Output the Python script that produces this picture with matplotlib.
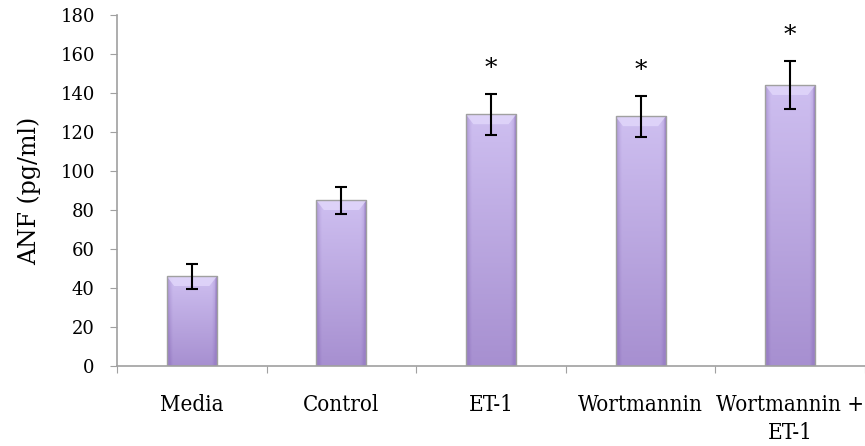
import matplotlib
matplotlib.use('Agg')
import matplotlib.pyplot as plt
import numpy as np
from matplotlib.colors import LinearSegmentedColormap
from matplotlib.patches import Polygon

groups = ['Media', 'Control', 'ET-1', 'Wortmannin', 'Wortmannin +\nET-1']
anf = [46, 85, 129, 128, 144]
sem = [6.5, 7, 10.5, 10.7, 12.4]
signif = [False, False, True, True, True]

plt.rcParams['font.family'] = ['DejaVu Serif']

fig = plt.figure(figsize=(8.65, 4.46), dpi=100)
ax = fig.add_axes([117/865., 80/446., 748/865., 351/446.])

x = np.arange(len(groups))
width = 0.335

cmap = LinearSegmentedColormap.from_list('lav', ['#9a80c6', '#d4c6f5'])

for xi, h in zip(x, anf):
    x0, x1 = xi - width/2, xi + width/2
    # vertical shade: light at top, darker at bottom
    v = np.linspace(0, 1, 200)[:, None]
    # horizontal shade: darker near the edges
    u = np.linspace(-1, 1, 60)[None, :]
    edge = np.clip(np.abs(u) - 0.75, 0, None) / 0.25
    z = 0.22 + 0.68 * v - 0.55 * edge**1.5
    z[:, u[0] > 0.9] -= 0.35
    ax.imshow(z, cmap=cmap, vmin=0, vmax=1, origin='lower', aspect='auto',
              extent=[x0, x1, 0, h], zorder=2, interpolation='bilinear')
    ax.add_patch(plt.Rectangle((x0, 0), width, h, fill=False,
                               ec='#a0a0a0', lw=1.0, zorder=3))
    # bevel at the top of the bar
    bev = 5
    ax.add_patch(Polygon([[x0, h], [x1, h], [x1 - 0.05, h - bev], [x0 + 0.05, h - bev]],
                         closed=True, fc='#e2d8fb', ec='none', alpha=0.8, zorder=2.5))

ax.errorbar(x, anf, yerr=sem, fmt='none', ecolor='black', elinewidth=1.5,
            capsize=4.5, capthick=1.5, zorder=4)

for xi, h, e, s in zip(x, anf, sem, signif):
    if s:
        ax.text(xi, h + e + 13, '*', ha='center', va='center', fontsize=18, zorder=5)

ax.set_xlim(-0.5, len(groups) - 0.5)
ax.set_ylim(0, 180)
ax.set_yticks(np.arange(0, 181, 20))
ax.set_xticks(np.arange(len(groups) + 1) - 0.5, minor=False)
ax.set_xticklabels([])
ax.set_xticks(x, minor=True)
ax.set_xticklabels(groups, minor=True, fontsize=16, fontstretch='condensed')
ax.tick_params(axis='x', which='minor', length=0, pad=20)
ax.tick_params(axis='x', which='major', length=5, direction='out', color='#a0a0a0')
ax.tick_params(axis='y', length=5, direction='out', color='#a0a0a0', labelsize=13, pad=11)
for t in ax.get_xticklabels(minor=True):
    t.set_linespacing(1.35)

for sp in ['top', 'right']:
    ax.spines[sp].set_visible(False)
for sp in ['left', 'bottom']:
    ax.spines[sp].set_color('#a0a0a0')
    ax.spines[sp].set_linewidth(1.2)
ax.spines['bottom'].set_zorder(6)

ax.set_ylabel('ANF (pg/ml)', fontsize=17, labelpad=14)

fig.savefig('out.png', dpi=100)
